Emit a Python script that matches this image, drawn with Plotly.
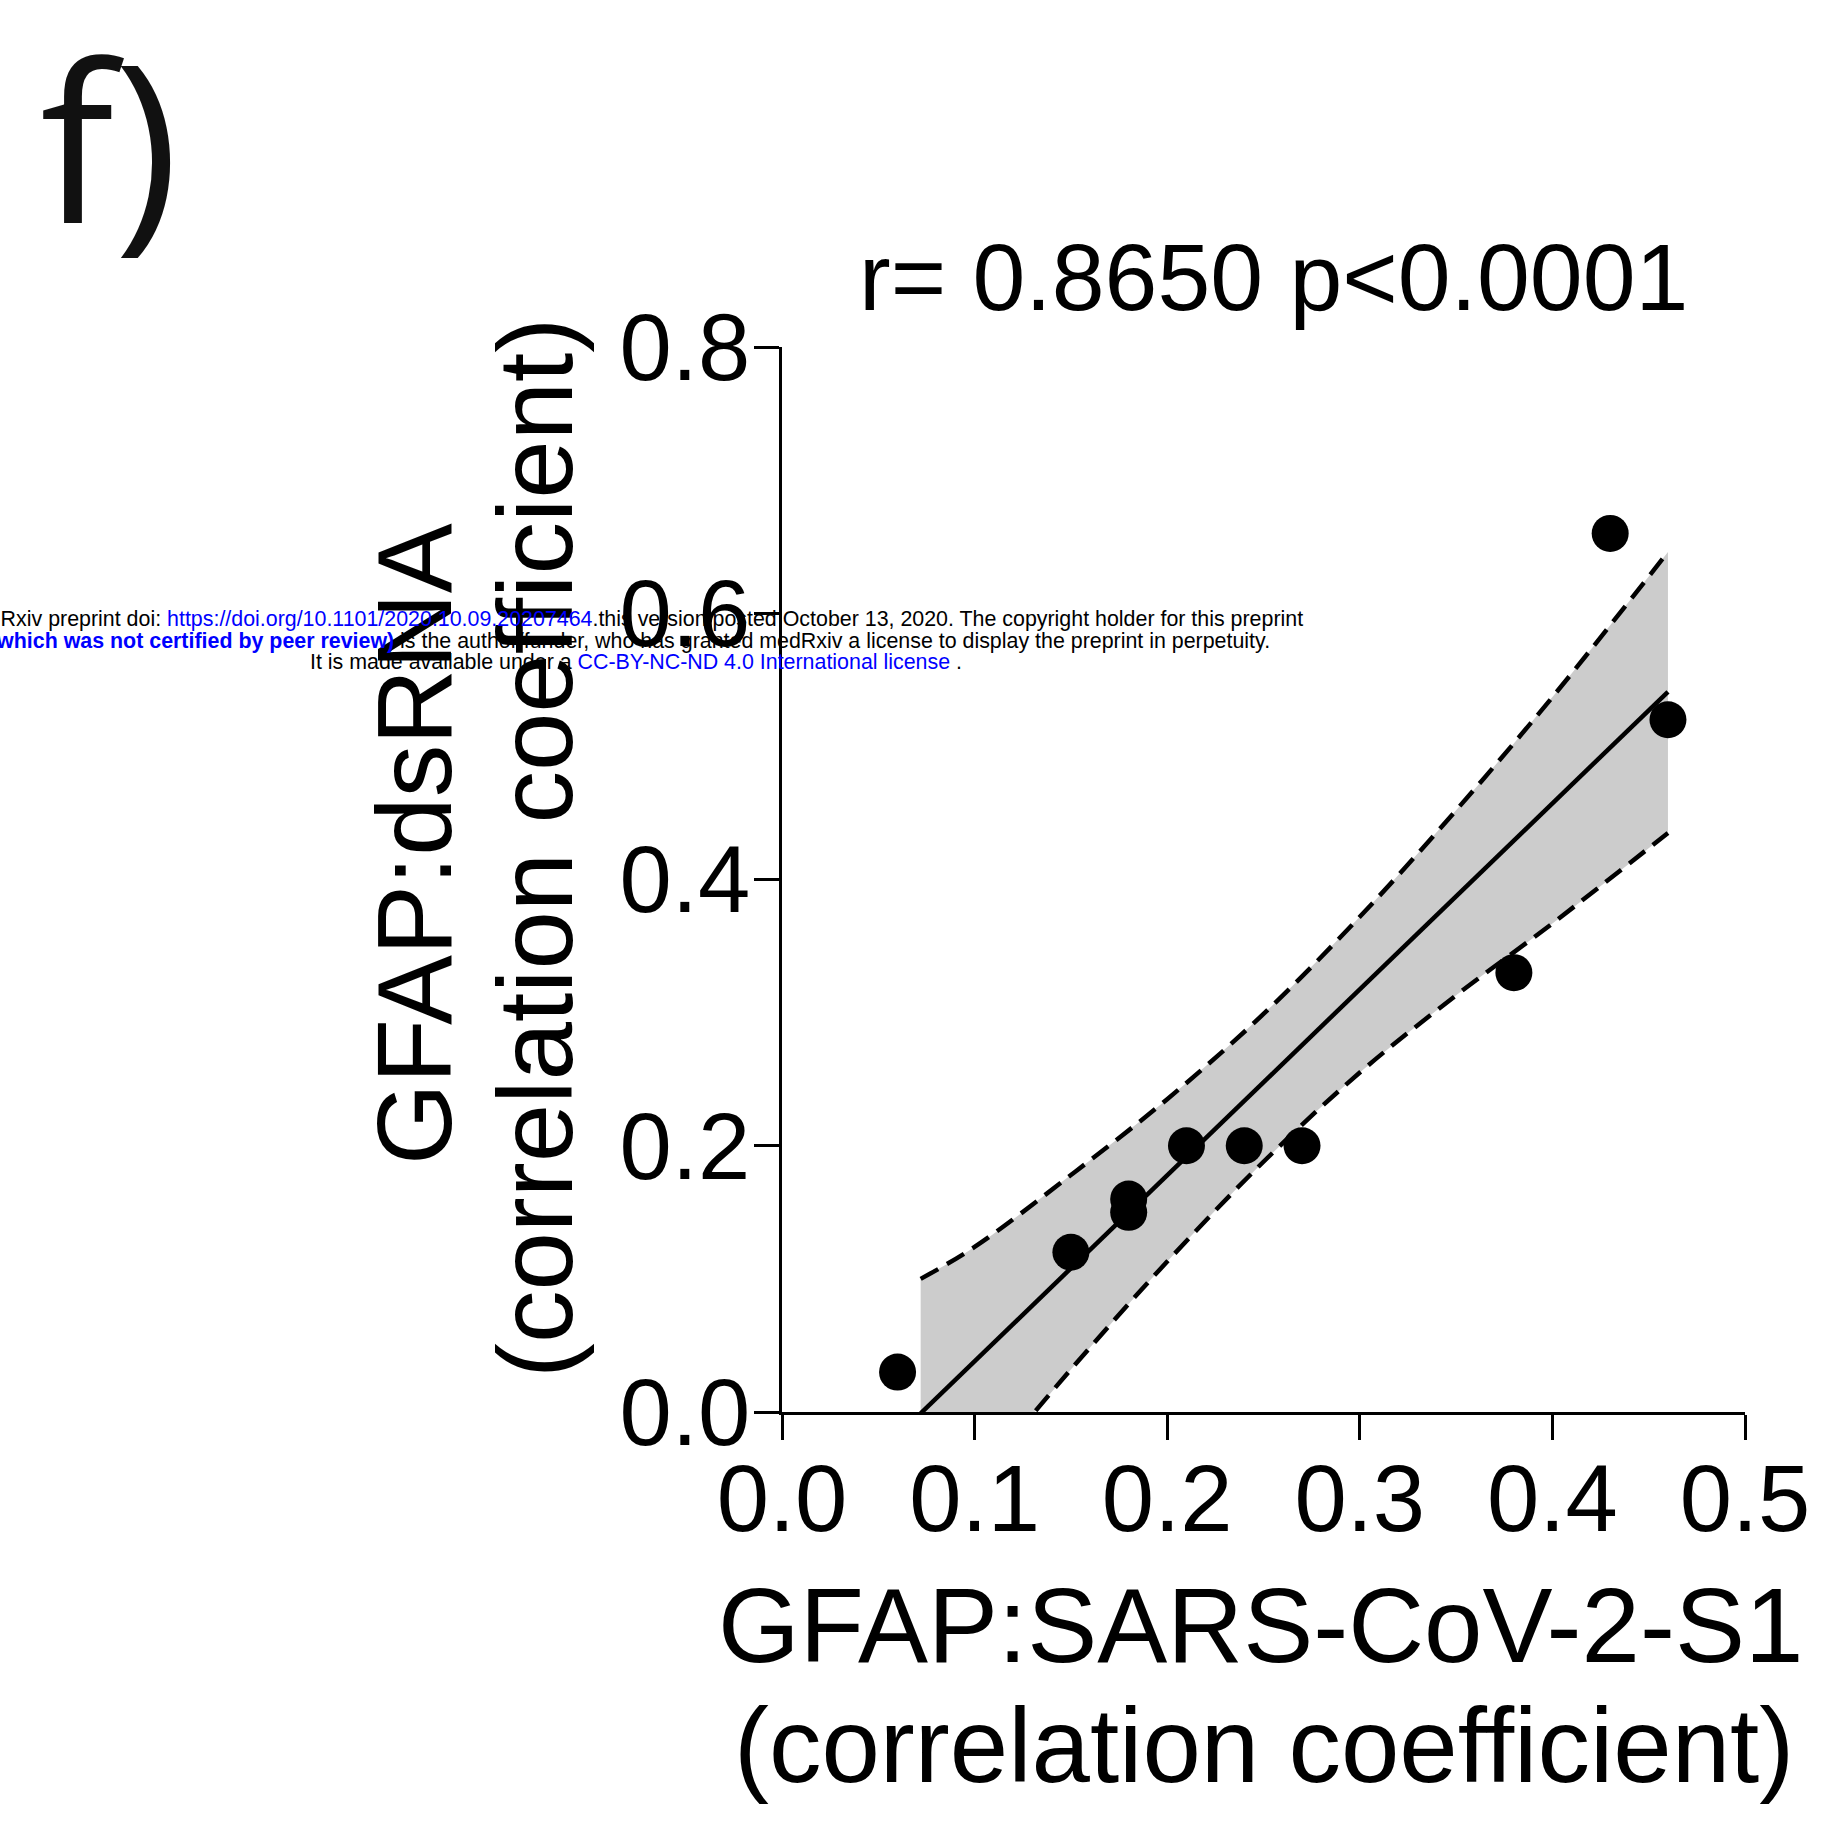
import plotly.graph_objects as go

# ---- data ----
x_vals = [0.06, 0.15, 0.18, 0.18, 0.21, 0.24, 0.27, 0.38, 0.43, 0.46]
y_vals = [0.03, 0.12, 0.16, 0.15, 0.20, 0.20, 0.20, 0.33, 0.66, 0.52]

fit_x = [0.072, 0.46]
fit_y = [-0.001, 0.541]

band_x = [0.072, 0.10, 0.15, 0.20, 0.25, 0.30, 0.35, 0.40, 0.46]
band_upper = [0.100, 0.124, 0.178, 0.235, 0.299, 0.372, 0.452, 0.537, 0.646]
band_lower = [-0.103, -0.054, 0.032, 0.113, 0.188, 0.255, 0.313, 0.367, 0.435]

x_ticks = [0.0, 0.1, 0.2, 0.3, 0.4, 0.5]
y_ticks = [0.0, 0.2, 0.4, 0.6, 0.8]

title_text = "r= 0.8650 p<0.0001"
x_title = ["GFAP:SARS-CoV-2-S1", "(correlation coefficient)"]
y_title = ["GFAP:dsRNA", "(correlation coefficient)"]
panel_label = "f)"

W, H = 1835, 1827
L, R, T, B = 782, 90, 347, 415
PW, PH = W - L - R, H - T - B


def px(xp):
    return (xp - L) / PW


def py(yp):
    return (H - B - yp) / PH


FONT = "Liberation Sans, Arial, Helvetica, sans-serif"

fig = go.Figure()

# confidence band (fill)
fig.add_trace(go.Scatter(x=band_x, y=band_lower, mode="lines",
                         line=dict(color="rgba(0,0,0,0)", width=0, shape="spline"),
                         showlegend=False, hoverinfo="skip"))
fig.add_trace(go.Scatter(x=band_x, y=band_upper, mode="lines", fill="tonexty",
                         fillcolor="#cccccc",
                         line=dict(color="rgba(0,0,0,0)", width=0, shape="spline"),
                         showlegend=False, hoverinfo="skip"))
# dashed confidence lines
for yy in (band_upper, band_lower):
    fig.add_trace(go.Scatter(x=band_x, y=yy, mode="lines",
                             line=dict(color="black", width=4.5, dash="20px,10px", shape="spline"),
                             showlegend=False, hoverinfo="skip"))
# regression line
fig.add_trace(go.Scatter(x=fit_x, y=fit_y, mode="lines",
                         line=dict(color="black", width=4.5),
                         showlegend=False, hoverinfo="skip"))
# points
fig.add_trace(go.Scatter(x=x_vals, y=y_vals, mode="markers",
                         marker=dict(color="black", size=37, line=dict(width=0)),
                         cliponaxis=False, showlegend=False))

axis_common = dict(showline=True, linecolor="black", linewidth=3,
                   ticks="outside", ticklen=25, tickwidth=3, tickcolor="black",
                   showgrid=False, zeroline=False,
                   tickfont=dict(family=FONT, size=94, color="black"),
                   tickformat=".1f")

fig.update_layout(
    width=W, height=H,
    margin=dict(l=L, r=R, t=T, b=B),
    paper_bgcolor="white", plot_bgcolor="white",
    font=dict(family=FONT, color="black"),
    xaxis=dict(range=[0, 0.5], tickvals=x_ticks, ticklabelstandoff=-22, **axis_common),
    yaxis=dict(range=[0, 0.8], tickvals=y_ticks, ticklabelstandoff=-15, **axis_common),
    showlegend=False,
)

TS = 105
ann = []
# title
ann.append(dict(text=title_text, x=px(1273), y=py(277), xref="paper", yref="paper",
                xanchor="center", yanchor="middle", showarrow=False,
                font=dict(family=FONT, size=95, color="black")))
# x title
ann.append(dict(text=x_title[0], x=px(1260), y=py(1626), xref="paper", yref="paper",
                xanchor="center", yanchor="middle", showarrow=False,
                font=dict(family=FONT, size=TS, color="black")))
ann.append(dict(text=x_title[1], x=px(1264), y=py(1745), xref="paper", yref="paper",
                xanchor="center", yanchor="middle", showarrow=False,
                font=dict(family=FONT, size=TS, color="black")))
# y title
ann.append(dict(text=y_title[0], x=px(414), y=py(844), xref="paper", yref="paper",
                xanchor="center", yanchor="middle", showarrow=False, textangle=-90,
                font=dict(family=FONT, size=TS, color="black")))
ann.append(dict(text=y_title[1], x=px(535), y=py(848), xref="paper", yref="paper",
                xanchor="center", yanchor="middle", showarrow=False, textangle=-90,
                font=dict(family=FONT, size=TS, color="black")))
# panel label
ann.append(dict(text=panel_label, x=px(38), y=py(138), xref="paper", yref="paper",
                xanchor="left", yanchor="middle", showarrow=False,
                font=dict(family="Open Sans, Noto Sans, sans-serif", size=220, color="#111111")))

# medRxiv watermark lines
BLUE = "#0000ff"
WM = 21.4
line1 = ("medRxiv preprint doi: <span style='color:%s'>https://doi.org/10.1101/2020.10.09.20207464</span>"
         ".this version posted October 13, 2020. The copyright holder for this preprint" % BLUE)
line2 = ("<span style='color:%s'><b>(which was not certified by peer review)</b></span>"
         " is the author/funder, who has granted medRxiv a license to display the preprint in perpetuity." % BLUE)
line3 = ("It is made available under a <span style='color:%s'>CC-BY-NC-ND 4.0 International license</span> ." % BLUE)
ann.append(dict(text=line1, x=px(1305), y=py(619), xref="paper", yref="paper",
                xanchor="right", yanchor="middle", showarrow=False,
                font=dict(family=FONT, size=WM, color="black")))
ann.append(dict(text=line2, x=px(1272), y=py(641), xref="paper", yref="paper",
                xanchor="right", yanchor="middle", showarrow=False,
                font=dict(family=FONT, size=WM, color="black")))
ann.append(dict(text=line3, x=px(308), y=py(662), xref="paper", yref="paper",
                xanchor="left", yanchor="middle", showarrow=False,
                font=dict(family=FONT, size=WM, color="black")))

fig.update_layout(annotations=ann)

fig.write_html("out.html")
